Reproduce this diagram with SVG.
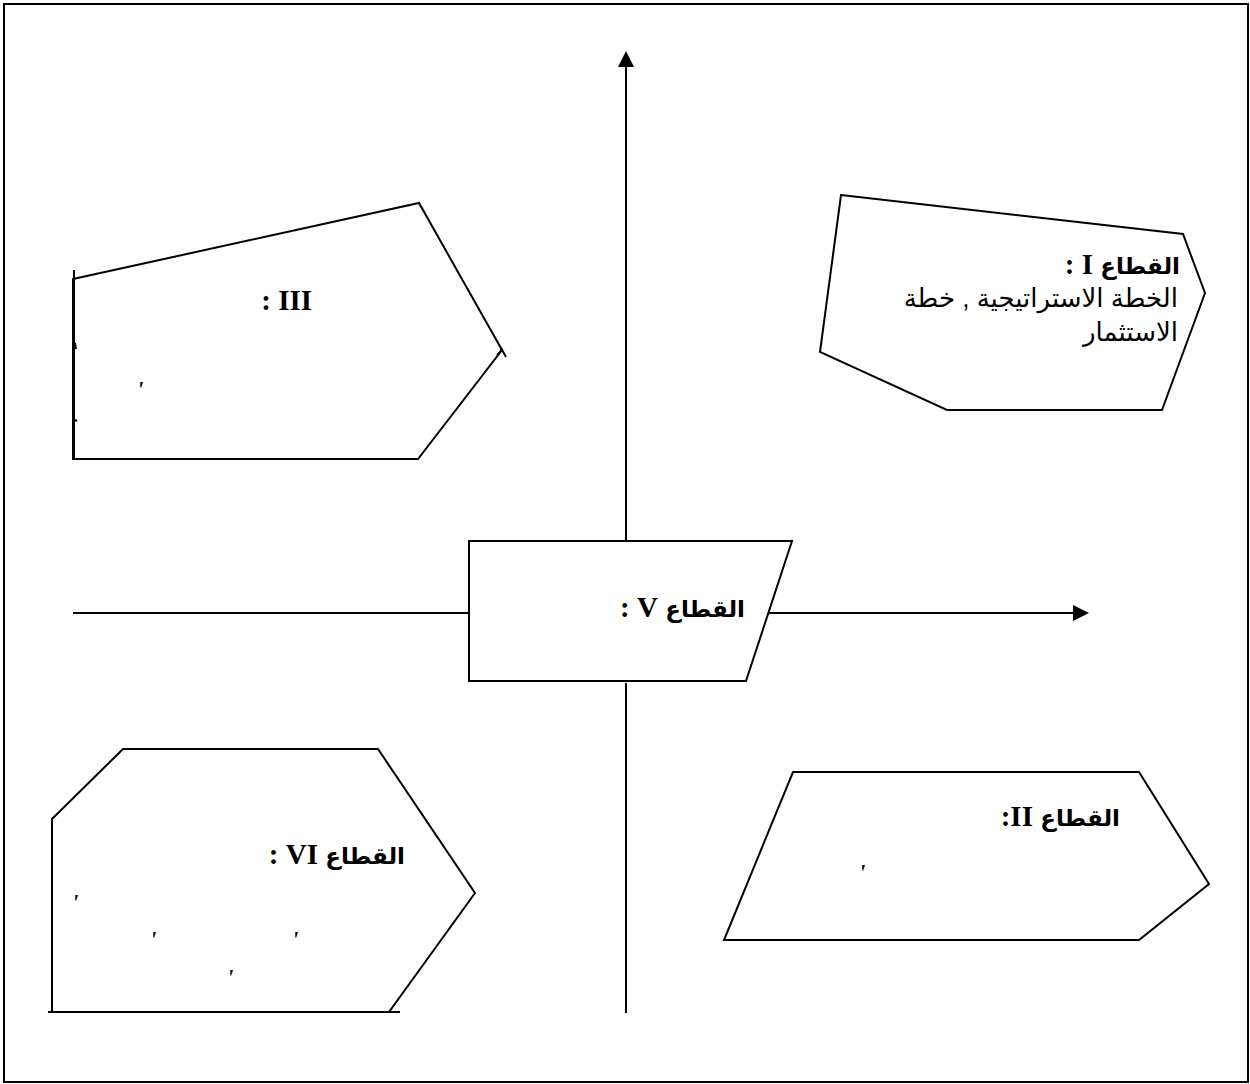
<svg xmlns="http://www.w3.org/2000/svg" width="1250" height="1084" viewBox="0 0 1250 1084">
  <style>
    .shape { fill: #ffffff; stroke: #000000; stroke-width: 2; stroke-linejoin: miter; }
    .ln { stroke: #000000; stroke-width: 2; fill: none; }
    .lbl { font-family: "Liberation Serif", "DejaVu Sans", serif; font-weight: bold; font-size: 29px; fill: #000000; }
    .ar { font-size: 23px; }
    .txt { font-family: "Liberation Sans", "DejaVu Sans", sans-serif; font-size: 26px; fill: #000000; }
    .mark { font-family: "Liberation Serif", serif; font-weight: bold; font-style: italic; font-size: 23px; fill: #000000; }
  </style>
  <defs>
    <marker id="arrow" markerUnits="userSpaceOnUse" markerWidth="16" markerHeight="16" viewBox="0 0 16 16" refX="8" refY="8" orient="auto">
      <path d="M0,0 L16,8 L0,16 z" fill="#000000"/>
    </marker>
  </defs>
  <rect x="0" y="0" width="1250" height="1084" fill="#ffffff"/>
  <rect id="frame" x="4" y="4" width="1244" height="1078" fill="none" stroke="#000000" stroke-width="2"/>

  <g id="connectors">
    <line class="ln" x1="626" y1="543" x2="626" y2="59" marker-end="url(#arrow)"/>
    <line class="ln" x1="626" y1="683" x2="626" y2="1013"/>
    <line class="ln" x1="73" y1="613" x2="469" y2="613"/>
    <line class="ln" x1="768" y1="613" x2="1081" y2="613" marker-end="url(#arrow)"/>
  </g>

  <g id="sector-I">
    <polygon class="shape" points="841,195 1183,234 1205,293 1162,410 947,410 820,352"/>
    <text class="lbl" x="1180" y="274" direction="rtl" text-anchor="start"><tspan class="ar">القطاع</tspan> I :</text>
    <text class="txt" x="1178" y="307" direction="rtl" text-anchor="start">الخطة الاستراتيجية , خطة</text>
    <text class="txt" x="1178" y="341" direction="rtl" text-anchor="start">الاستثمار</text>
  </g>

  <g id="sector-III">
    <polygon class="shape" points="73,279 419,203 502,350 418,459 73,459"/>
    <line class="ln" x1="74" y1="270" x2="74" y2="460"/>
    <line class="ln" x1="501" y1="348" x2="506" y2="357"/>
    <line class="ln" x1="502" y1="350" x2="497" y2="355"/>
    <line class="ln" x1="75" y1="343" x2="76" y2="349"/>
    <line class="ln" x1="75" y1="420" x2="77" y2="421"/>
    <text class="lbl" x="312" y="310" text-anchor="end">: III</text>
    <text class="mark" x="137" y="397">'</text>
  </g>

  <g id="sector-V">
    <polygon class="shape" points="469,541 792,541 746,681 469,681"/>
    <text class="lbl" x="745" y="617" direction="rtl" text-anchor="start"><tspan class="ar">القطاع</tspan> V :</text>
  </g>

  <g id="sector-VI">
    <polygon class="shape" points="123,749 378,749 475,893 389,1012 52,1012 52,819"/>
    <line class="ln" x1="48" y1="1012" x2="400" y2="1012"/>
    <text class="lbl" x="405" y="864" direction="rtl" text-anchor="start"><tspan class="ar">القطاع</tspan> VI :</text>
    <text class="mark" x="72" y="910">'</text>
    <text class="mark" x="150" y="947">'</text>
    <text class="mark" x="292" y="947">'</text>
    <text class="mark" x="227" y="985">'</text>
  </g>

  <g id="sector-II">
    <polygon class="shape" points="793,772 1139,772 1209,884 1139,940 724,940"/>
    <text class="lbl" x="1120" y="826" direction="rtl" text-anchor="start"><tspan class="ar">القطاع</tspan> II:</text>
    <text class="mark" x="859" y="880">'</text>
  </g>
</svg>
